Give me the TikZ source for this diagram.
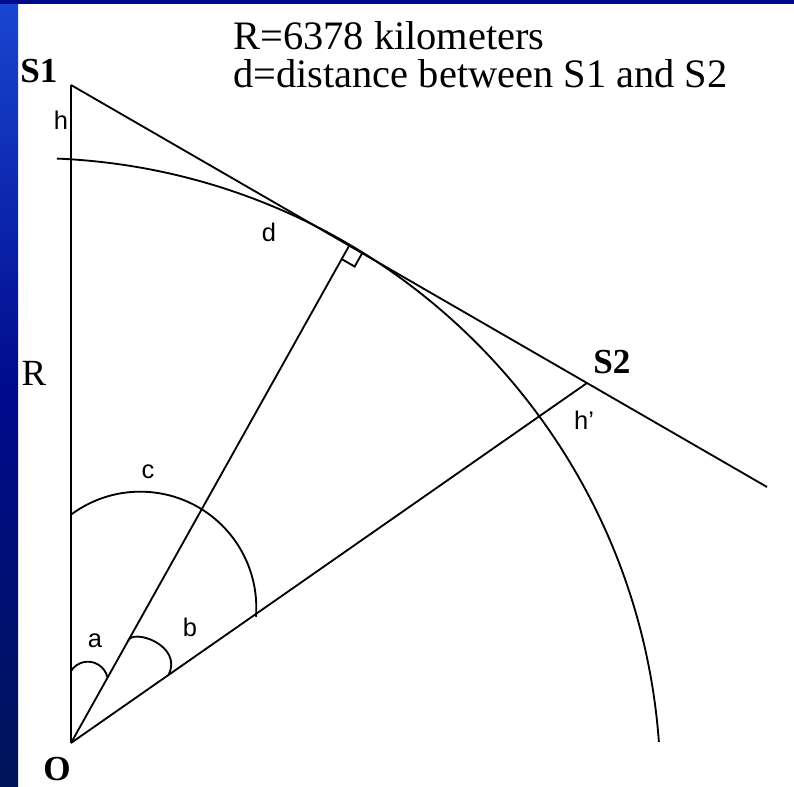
\documentclass[tikz,border=0pt]{standalone}
\usepackage{fontspec}
\setmainfont{Liberation Serif}
\newfontfamily\lblfont{Liberation Sans}
\usetikzlibrary{calc}
\definecolor{bandtop}{RGB}{25,70,210}
\definecolor{bandmid}{RGB}{0,10,140}
\definecolor{bandbot}{RGB}{0,20,90}
\tikzset{
  geo/.style={line width=1.05pt, black},
  small/.style={font=\lblfont\fontsize{14.5}{16}\selectfont},
  point/.style={font=\bfseries\fontsize{20}{22}\selectfont},
  note/.style={font=\fontsize{23}{26}\selectfont, anchor=base west, inner sep=0pt}
}

\begin{document}
\begin{tikzpicture}[x=0.02cm,y=0.02cm]
	\useasboundingbox (0,0) rectangle (794,787);
	% background and blue frame
	\fill[white] (0,0) rectangle (794,787);
	\shade[top color=bandtop, bottom color=bandbot, middle color=bandmid] (0,0) rectangle (18,787);
	\fill[bandmid] (0,783) rectangle (794,787);
	% points
	\coordinate (O) at (71,44);
	\coordinate (S1) at (71,702);
	\coordinate (S2) at (587,404);
	\coordinate (F) at (349,541);
	\coordinate (E) at (767,300);
	\coordinate (Ec) at (30.6,-1);
	% lines
	\draw[geo] (O)--(S1);
	\draw[geo] (S1)--(E);
	\draw[geo] (O)--(F);
	\draw[geo] (O)--(S2);
	% earth surface
	\draw[geo] ([shift={(87.6:630)}]Ec) arc[start angle=87.6, end angle=4.2, radius=630];
	% angles
	\coordinate (a1) at ($(O)!0.1094!(S1)$);
	\coordinate (b1) at ($(O)!0.2052!(F)$);
	\coordinate (b2) at ($(O)!0.189!(S2)$);
	\coordinate (c1) at ($(O)!0.347!(S1)$);
	\draw[geo] (a1) arc[start angle=147.7, end angle=14.5, radius=20];
	\draw[geo] (b1) .. controls ($(b1)+(4,13)$) and ($(b2)+(15,30)$) .. (b2);
	\draw[geo] (c1) arc[start angle=126.7, end angle=-4.5, radius=116];
	% right angle
	\coordinate (ra1) at ($(F)!0.3cm!(O)$);
	\coordinate (ra2) at ($(F)!0.3cm!(S2)$);
	\draw[geo] (ra1) -- ($(ra1)+(ra2)-(F)$) -- (ra2);
	% labels
	\node[point] (lblS1) at (39,716) {S1};
	\node[point] (lblS2) at (612,425) {S2};
	\node[point, anchor=base] (lblO) at (57,6) {O};
	\node[font=\fontsize{21}{24}\selectfont] (lblR) at (34,414) {R};
	\node[small] (lblh) at (61,667) {h};
	\node[small] (lbld) at (269,555) {d};
	\node[small] (lblc) at (148,315) {c};
	\node[small] (lbla) at (95,146) {a};
	\node[small] (lblb) at (190,160) {b};
	\node[small] (lblhp) at (584,367) {h’};
	\node[note] (txtR) at (233,737) {R=6378 kilometers};
	\node[note] (txtd) at (233,699) {d=distance between S1 and S2};
\end{tikzpicture}
\end{document}
